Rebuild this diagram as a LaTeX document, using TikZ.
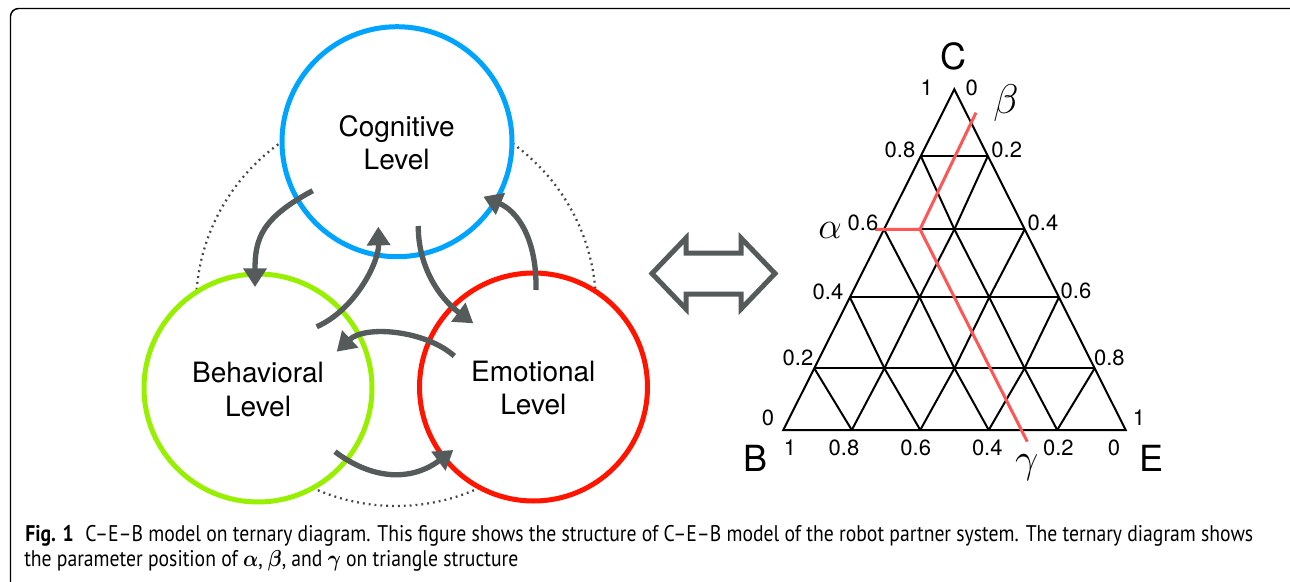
\documentclass[tikz,border=0pt]{standalone}
\usepackage{fontspec}
\usepackage{graphicx}
\setmainfont{TeX Gyre Heros}
\newfontfamily\capfont{PT Sans}
\usetikzlibrary{arrows.meta,calc}

\definecolor{cogblue}{RGB}{0,164,255}
\definecolor{behgreen}{RGB}{150,240,0}
\definecolor{emored}{RGB}{255,20,0}
\definecolor{flowgray}{RGB}{85,90,90}
\definecolor{pathred}{RGB}{255,85,85}
\definecolor{dotgray}{RGB}{70,70,70}

\newsavebox\caplineA
\newsavebox\caplineB
\newlength\caplenA
\newcommand\bigmath[2]{\scalebox{#1}{$#2$}}

\tikzset{
  level circle/.style={circle, inner sep=0, line width=3.75pt, fill=white, minimum size=#1},
  lvl/.style={inner sep=0, anchor=base, font=\fontsize{21}{25}\selectfont},
  flow/.style={draw=flowgray, line width=4pt, -{Triangle[width=17pt,length=14pt]}},
  grid line/.style={draw=black, line width=1.5pt},
  num/.style={inner sep=0, font=\fontsize{16.5}{19}\selectfont},
  corner/.style={inner sep=0, font=\fontsize{27}{31}\selectfont},
  greek/.style={inner sep=0, font=\fontsize{20.74}{24}\selectfont},
  param/.style={draw=pathred, line width=2.25pt},
}

\begin{document}
% caption lines, measured before drawing so both get the same horizontal scale
\sbox\caplineA{\capfont\fontsize{17}{19}\selectfont{\bfseries Fig. 1}\hspace{0.6em}C–E–B model on ternary diagram. This figure shows the structure of C–E–B model of the robot partner system. The ternary diagram shows}%
\sbox\caplineB{\capfont\fontsize{17}{19}\selectfont the parameter position of {\boldmath$\alpha$}, {\boldmath$\beta$}, and {\boldmath$\gamma$} on triangle structure}%
\setlength\caplenA{\wd\caplineA}%
\pgfmathsetmacro\capsx{921pt/\caplenA}%
\begin{tikzpicture}[x=0.75pt, y=-0.75pt]
\useasboundingbox (0,0) rectangle (1290,582);
\clip (0,0) rectangle (1290,582);

% frame
\draw[line width=1.1pt, rounded corners=6pt] (10.5,8.5) rectangle (1320,595);

% dotted ring behind the three levels
\draw[dotgray, line width=1.7pt, dash pattern=on 1.4pt off 3pt] (396,306) circle[radius=150pt];

% the three levels
\node[level circle=172.5pt, draw=cogblue] (cog) at (397,141.7) {};
\node[level circle=171pt, draw=behgreen] (beh) at (258,388) {};
\node[level circle=171pt, draw=emored] (emo) at (533.5,387) {};

\node[lvl] (cogT) at (396.7,136) {Cognitive};
\node[lvl] (cogL) at (396.7,169.3) {Level};
\node[lvl] (behT) at (258,382.7) {Behavioral};
\node[lvl] (behL) at (258,416) {Level};
\node[lvl] (emoT) at (533.3,381) {Emotional};
\node[lvl] (emoL) at (533.3,414.3) {Level};

% arrows between levels
\coordinate (cb1) at (312.7,190.7);  \coordinate (cb2) at (255,287);
\coordinate (bc1) at (316.7,326.7);  \coordinate (bc2) at (378.3,226.7);
\coordinate (ce1) at (418.3,226);    \coordinate (ce2) at (473.3,323.3);
\coordinate (ec1) at (536,290);      \coordinate (ec2) at (483.3,196.7);
\coordinate (eb1) at (454.3,356);    \coordinate (eb2) at (336.7,351.7);
\coordinate (be1) at (335,451.7);    \coordinate (be2) at (453.3,450);

\draw[flow] (cb1) .. controls (262,218) and (255,238) .. (cb2);
\draw[flow] (bc1) .. controls (355,310) and (379,262) .. (bc2);
\draw[flow] (ce1) .. controls (418,265) and (438,297) .. (ce2);
\draw[flow] (ec1) .. controls (537,235) and (515,210) .. (ec2);
\draw[flow] (eb1) .. controls (425,330) and (365,325) .. (eb2);
\draw[flow] (be1) .. controls (375,481.7) and (413.3,480) .. (be2);

% hollow double arrow
\draw[flowgray, line width=3.75pt, line join=miter]
  (652,273.5) -- (686,238) -- (686,253) -- (741,253) -- (741,238) -- (775,273.5)
  -- (741,309) -- (741,294) -- (686,294) -- (686,309) -- cycle;

% ternary diagram: rows of grid points
\foreach \r/\yy in {0/430,1/368.3,2/297.3,3/229.3,4/156,5/89.3} {
  \coordinate (L\r) at ({783.3+(430-\yy)/340.7*171}, \yy);
  \coordinate (R\r) at ({1125.7-(430-\yy)/340.7*171.4}, \yy);
}
\foreach \r in {0,...,5} {
  \pgfmathtruncatemacro\n{5-\r}
  \pgfmathtruncatemacro\d{max(\n,1)}
  \foreach \k in {0,...,\n} {
    \coordinate (P\r-\k) at ($(L\r)!{\k/\d}!(R\r)$);
  }
}
% rows
\foreach \r in {1,...,4} { \draw[grid line] (L\r) -- (R\r); }
% lines parallel to the left side
\foreach \k in {1,...,4} {
  \pgfmathtruncatemacro\m{5-\k}
  \draw[grid line] (P0-\k) \foreach \r in {1,...,\m} { -- (P\r-\k) };
}
% lines parallel to the right side
\foreach \k in {1,...,4} {
  \draw[grid line] (P0-\k) \foreach \r [evaluate=\r as \j using int(\k-\r)] in {1,...,\k} { -- (P\r-\j) };
}
% outline
\draw[grid line, line join=miter] (L0) -- (R0) -- (L5) -- cycle;

% parameter path
\coordinate (aL) at (875,229.3);
\coordinate (aJ) at (920,229.3);
\coordinate (bT) at (976,112.7);
\coordinate (gB) at (1027.3,441.7);
\draw[param] (aL) -- (aJ) -- (bT);
\draw[param] (aJ) -- (gB);

% corner letters and parameter names
\node[corner] (lC) at (953.3,56.7) {C};
\node[corner] (lB) at (755,458.3) {B};
\node[corner] (lE) at (1151.7,458.3) {E};
\node[greek] (lbeta) at (1006,103) {\bigmath{1.5}{\beta}};
\node[greek] (lalpha) at (830,230) {\bigmath{1.35}{\alpha}};
\node[greek] (lgamma) at (1026.7,468) {\bigmath{1.5}{\gamma}};

% scale values, left side
\node[num] (sl1) at (926.7,88) {1};
\node[num] (sl2) at (900,150) {0.8};
\node[num] (sl3) at (863,223) {0.6};
\node[num] (sl4) at (828,292) {0.4};
\node[num] (sl5) at (798,358) {0.2};
\node[num] (sl6) at (768,418) {0};
% scale values, right side
\node[num] (sr1) at (971.7,88) {0};
\node[num] (sr2) at (1006.7,150) {0.2};
\node[num] (sr3) at (1043,223) {0.4};
\node[num] (sr4) at (1076,290.7) {0.6};
\node[num] (sr5) at (1109.3,358) {0.8};
\node[num] (sr6) at (1139,418) {1};
% scale values, base
\node[num] (sb1) at (790,448) {1};
\node[num] (sb2) at (844,448) {0.8};
\node[num] (sb3) at (915.7,448) {0.6};
\node[num] (sb4) at (987.3,448) {0.4};
\node[num] (sb5) at (1058.3,448) {0.2};
\node[num] (sb6) at (1114,448) {0};

% caption
\node[anchor=base west, inner sep=0] (capA) at (25,541) {\scalebox{\capsx}[1]{\usebox\caplineA}};
\node[anchor=base west, inner sep=0] (capB) at (24,566.7) {\scalebox{\capsx}[1]{\usebox\caplineB}};
\end{tikzpicture}
\end{document}
